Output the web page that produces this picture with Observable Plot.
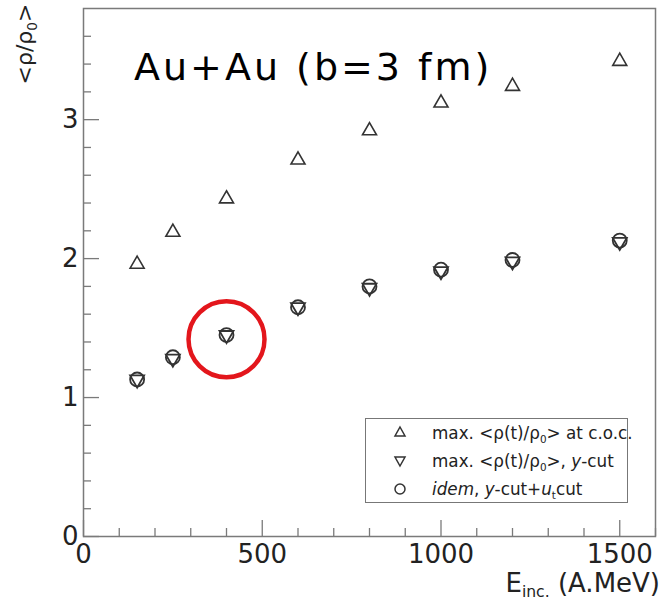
<!DOCTYPE html>
<html><head><meta charset="utf-8">
<script src="https://cdn.jsdelivr.net/npm/d3@7"></script>
<script src="https://cdn.jsdelivr.net/npm/@observablehq/plot@0.6"></script>
<style>
body{margin:0;background:#fff;}
#wrap{position:relative;width:664px;height:603px;overflow:hidden;font-family:"DejaVu Sans",sans-serif;color:#222;}
#wrap > svg{position:absolute;left:0;top:0;}
.ov{position:absolute;white-space:nowrap;}
#title{left:134px;top:45px;font-size:38px;letter-spacing:3px;color:#000;}
#ylab{left:27px;top:44px;font-size:22px;transform:translate(-50%,-50%) rotate(-90deg);line-height:1;}
#xlab{right:4px;top:573px;font-size:26px;line-height:20px;}
#xlab sub{font-size:60%;vertical-align:-0.3em;line-height:1;}
#legend{left:365px;top:418px;width:263px;height:85px;border:1.5px solid #777;box-sizing:border-box;background:transparent;}
#legend .row{position:absolute;left:0;height:24px;font-size:16.8px;line-height:24px;}
#legend .row svg{position:absolute;left:26px;top:4px;}
#legend .row span.t{position:absolute;left:66px;white-space:nowrap;}
sub{font-size:62%;}
</style></head><body>
<div id="wrap"></div>
<script>
// ---- data ----
const energies   = [150, 250, 400, 600, 800, 1000, 1200, 1500];      // E_inc (A.MeV)
const rhoCoc     = [1.96, 2.19, 2.43, 2.71, 2.92, 3.12, 3.24, 3.42]; // max <rho(t)/rho0> at c.o.c.
const rhoYcut    = [1.13, 1.28, 1.45, 1.65, 1.79, 1.91, 1.98, 2.12]; // max <rho(t)/rho0>, y-cut
const rhoYUtcut  = [1.13, 1.29, 1.45, 1.65, 1.80, 1.92, 1.99, 2.13]; // idem, y-cut+ut cut
const xMajor = [0, 500, 1000, 1500];
const xMinor = [100, 200, 300, 400, 600, 700, 800, 900, 1100, 1200, 1300, 1400, 1600];
const yMajor = [0, 1, 2, 3];
const yMinor = [0.2, 0.4, 0.6, 0.8, 1.2, 1.4, 1.6, 1.8, 2.2, 2.4, 2.6, 2.8, 3.2, 3.4, 3.6];
const highlightE = [400];
const highlightRho = [1.42];
const titleText = "Au+Au (b=3 fm)";

const rowsCoc   = energies.map((e, i) => ({e, rho: rhoCoc[i]}));
const rowsY     = energies.map((e, i) => ({e, rho: rhoYcut[i]}));
const rowsYUt   = energies.map((e, i) => ({e, rho: rhoYUtcut[i]}));
const highlight = highlightE.map((e, i) => ({e, rho: highlightRho[i]}));

const triangleDown = {
  draw(context, size) {
    const y = -Math.sqrt(size / (3 * Math.sqrt(3)));
    context.moveTo(0, -2 * y);
    context.lineTo(Math.sqrt(3) * y, y);
    context.lineTo(-Math.sqrt(3) * y, y);
    context.closePath();
  }
};

const axisColor = "#7a7a7a";
const fmt = d => String(d);

const chart = Plot.plot({
  width: 664, height: 603,
  marginTop: 8, marginRight: 9, marginBottom: 67, marginLeft: 83,
  style: {fontFamily: "DejaVu Sans", background: "transparent", color: "#222"},
  x: {domain: [0, 1600]},
  y: {domain: [0, 3.8]},
  marks: [
    Plot.axisX(xMinor, {tickSize: -8, tickFormat: () => "", label: null, stroke: axisColor, strokeWidth: 1.3}),
    Plot.axisX(xMajor, {tickSize: -16, tickFormat: () => "", label: null, stroke: axisColor, strokeWidth: 1.3}),
    Plot.axisX(xMajor, {tickSize: 0, tickPadding: 8, tickFormat: fmt, fontSize: 26, label: null, fill: "#222"}),
    Plot.axisY(yMinor, {tickSize: -8, tickFormat: () => "", label: null, stroke: axisColor, strokeWidth: 1.3}),
    Plot.axisY(yMajor, {tickSize: -16, tickFormat: () => "", label: null, stroke: axisColor, strokeWidth: 1.3}),
    Plot.axisY(yMajor, {tickSize: 0, tickPadding: 5, tickFormat: fmt, fontSize: 26, label: null, fill: "#222"}),
    Plot.frame({stroke: axisColor, strokeWidth: 1.5}),
    Plot.dot(rowsCoc, {x: "e", y: "rho", symbol: "triangle", r: 5.2, stroke: "#333", strokeWidth: 1.6, fill: "none"}),
    Plot.dot(rowsYUt, {x: "e", y: "rho", symbol: "circle", r: 7, stroke: "#333", strokeWidth: 1.8, fill: "none"}),
    Plot.dot(rowsY, {x: "e", y: "rho", symbol: triangleDown, r: 5.2, stroke: "#333", strokeWidth: 1.8, fill: "none"}),
    Plot.dot(highlight, {x: "e", y: "rho", r: 38, stroke: "#e3161c", strokeWidth: 4.5, fill: "none"})
  ]
});

const wrap = document.getElementById("wrap");
wrap.appendChild(chart);

function el(html) { const d = document.createElement("div"); d.innerHTML = html; return d.firstElementChild; }
wrap.appendChild(el(`<div id="title" class="ov">${titleText}</div>`));
wrap.appendChild(el(`<div id="ylab" class="ov">&lt;ρ/ρ<sub>0</sub>&gt;</div>`));
wrap.appendChild(el(`<div id="xlab" class="ov">E<sub>inc.</sub> (A.MeV)</div>`));

const symUp = `<svg width="16" height="16" viewBox="-8 -8 16 16"><path d="M0,-6L5,3L-5,3Z" fill="none" stroke="#333" stroke-width="1.5"/></svg>`;
const symDown = `<svg width="16" height="16" viewBox="-8 -8 16 16"><path d="M0,5L5,-4L-5,-4Z" fill="none" stroke="#333" stroke-width="1.5"/></svg>`;
const symCirc = `<svg width="16" height="16" viewBox="-8 -8 16 16"><circle r="5" fill="none" stroke="#333" stroke-width="1.5"/></svg>`;
const legendItems = [
  {sym: symUp,   label: `max. &lt;ρ(t)/ρ<sub>0</sub>&gt; at c.o.c.`},
  {sym: symDown, label: `max. &lt;ρ(t)/ρ<sub>0</sub>&gt;, <i>y</i>-cut`},
  {sym: symCirc, label: `<i>idem</i>, <i>y</i>-cut+<i>u</i><sub>t</sub>cut`}
];
const legend = el(`<div id="legend" class="ov"></div>`);
legendItems.forEach((it, i) => {
  const r = el(`<div class="row" style="top:${2 + i * 28}px">${it.sym}<span class="t">${it.label}</span></div>`);
  legend.appendChild(r);
});
wrap.appendChild(legend);
</script>
</body></html>
